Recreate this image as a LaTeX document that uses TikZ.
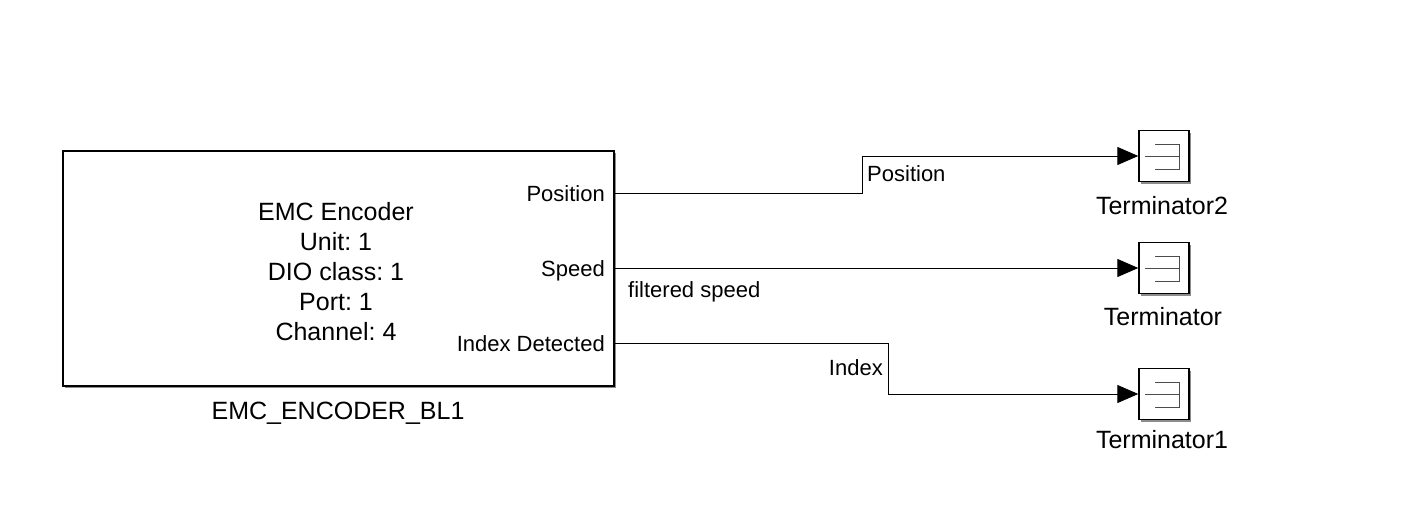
\documentclass[tikz,border=0pt]{standalone}
\usepackage{fontspec}
\setmainfont{Liberation Sans}
\usetikzlibrary{arrows.meta,shadows}
\frenchspacing
\begin{document}
\begin{tikzpicture}[x=1pt,y=-1pt,
  every node/.style={font=\fontsize{22}{30}\selectfont\frenchspacing, inner sep=0pt},
  big/.style={font=\fontsize{25}{30}\selectfont\frenchspacing},
  blk/.style={draw=black, line width=1.4pt, fill=white,
    drop shadow={shadow xshift=2pt,shadow yshift=-2pt,fill=black!45,opacity=1}},
  term/.style={blk, minimum width=50pt, minimum height=51pt},
  sig/.style={draw=black, line width=1pt, -{Triangle[length=21pt,width=18pt]}},
  lbl/.style={anchor=base, big},
  glyph/.style={draw=black!70, line width=0.9pt}]
\useasboundingbox (0,0) rectangle (1407,511);
\fill[white] (0,0) rectangle (1407,511);

% main block
\node[blk, minimum width=551pt, minimum height=235pt] (enc) at (338.5,268.5) {};
\node[align=center, big] (enctext) at (336,271.5) {EMC Encoder\\Unit: 1\\DIO class: 1\\Port: 1\\Channel: 4};
\node[anchor=base east] (pPos) at (605,201) {Position};
\node[anchor=base east] (pSpd) at (605,276) {Speed};
\node[anchor=base east] (pIdx) at (605,351) {Index Detected};
\node[lbl] (encname) at (338,419) {EMC\_ENCODER\_BL1};

\coordinate (oPos) at (614,193);
\coordinate (oSpd) at (614,268);
\coordinate (oIdx) at (614,343);

% terminators
\node[term] (t2) at (1164,156) {};
\node[term] (t0) at (1164,268) {};
\node[term] (t1) at (1164,394) {};
\foreach \t in {t2,t0,t1}{
  \draw[glyph] ([shift={(-9,-12)}]\t.center) -- ([shift={(15,-12)}]\t.center)
               -- ([shift={(15,13)}]\t.center) -- ([shift={(-9,13)}]\t.center);
  \draw[glyph] ([shift={(-19,0)}]\t.center) -- ([shift={(15,0)}]\t.center);
}
\node[lbl] (l2) at (1162,214) {Terminator2};
\node[lbl] (l0) at (1163,325) {Terminator};
\node[lbl] (l1) at (1162,448) {Terminator1};

% connectors
\draw[sig] (oPos) -- (862,193) |- (t2.west);
\draw[sig] (oSpd) -- (t0.west);
\draw[sig] (oIdx) -- (888,343) |- (t1.west);

% signal labels
\node[anchor=base west] (sPos) at (867,181) {Position};
\node[anchor=base west] (sSpd) at (628,297) {filtered speed};
\node[anchor=base east] (sIdx) at (883,375) {Index};
\end{tikzpicture}
\end{document}
